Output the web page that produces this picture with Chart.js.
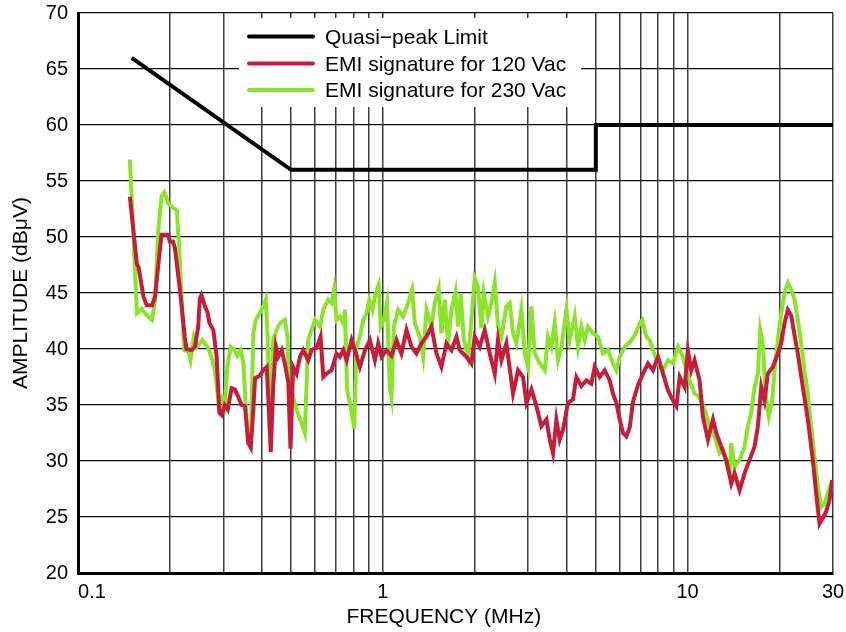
<!DOCTYPE html>
<html>
<head>
<meta charset="utf-8">
<script src="https://cdn.jsdelivr.net/npm/chart.js@4.4.1/dist/chart.umd.min.js"></script>
<style>
  html, body { margin: 0; padding: 0; background: #ffffff; }
  #wrap { width: 846px; height: 632px; }
</style>
</head>
<body>
<div id="wrap"><canvas id="c" width="846" height="632"></canvas></div>
<script>
// ---------- data ----------
const limitFreq = [0.15, 0.5, 5, 5, 30];
const limitVal  = [66, 56, 56, 60, 60];

const red120Freq = [0.148,0.156,0.158,0.164,0.168,0.175,0.179,0.186,0.188,0.198,
0.200,0.205,0.208,0.216,0.224,0.227,0.236,0.242,0.248,0.251,
0.254,0.261,0.266,0.270,0.278,0.285,0.291,0.296,0.303,0.310,
0.319,0.327,0.336,0.344,0.353,0.362,0.369,0.376,0.381,0.395,
0.405,0.416,0.424,0.429,0.437,0.446,0.454,0.466,0.477,0.490,
0.498,0.508,0.521,0.535,0.548,0.569,0.584,0.606,0.625,0.638,
0.654,0.679,0.705,0.723,0.742,0.761,0.790,0.810,0.841,0.874,
0.907,0.942,0.966,0.991,1.028,1.068,1.109,1.151,1.196,1.242,
1.290,1.339,1.391,1.444,1.500,1.557,1.617,1.680,1.745,1.789,
1.881,1.953,2.003,2.080,2.160,2.244,2.330,2.388,2.450,2.544,
2.675,2.778,2.885,2.959,3.073,3.191,3.314,3.442,3.530,3.618,
3.711,3.806,3.903,4.052,4.209,4.317,4.483,4.656,4.835,4.958,
5.149,5.347,5.553,5.693,5.839,5.989,6.140,6.298,6.459,6.622,
6.877,7.141,7.416,7.702,7.998,8.306,8.626,8.958,9.187,9.422,
9.785,10.02,10.28,10.54,10.95,11.22,11.66,12.11,12.42,12.90,
13.39,13.91,14.26,14.81,15.38,15.97,16.59,17.01,17.45,17.89,
18.34,19.04,19.78,20.28,20.80,21.33,21.88,22.44,23.00,23.88,
24.81,25.76,26.42,27.10,27.78,28.50,29.22,29.80];
const red120Val = [53.6,47.6,47.3,44.7,43.9,43.9,44.7,49.1,50.2,50.2,
49.6,49.6,49.0,45.3,41.1,40.0,39.9,40.2,42.0,44.5,
44.8,43.8,43.3,42.3,41.7,39.3,34.3,34.1,35.0,34.6,
36.5,36.4,35.7,35.0,34.9,31.6,31.2,34.6,37.4,37.6,
38.1,38.4,34.0,30.8,36.7,40.2,39.3,39.9,38.7,37.0,
31.1,38.4,37.8,39.3,39.9,39.0,39.9,40.1,41.1,37.5,
37.8,38.1,39.6,39.3,39.9,39.0,40.8,39.9,38.4,39.9,
40.8,39.0,40.5,39.3,39.9,39.4,40.8,39.6,41.7,40.2,
39.6,40.5,41.1,42.0,39.6,38.4,40.5,39.9,41.1,39.9,
39.3,38.7,41.1,40.2,41.7,39.6,37.8,40.8,39.0,40.5,
36.0,38.1,37.5,35.2,36.4,34.9,33.1,33.7,31.9,30.7,
33.7,31.9,32.8,35.2,35.5,37.5,36.7,37.2,36.9,38.4,
37.5,38.1,37.2,36.0,35.2,33.7,32.5,32.2,33.0,35.3,
36.8,37.8,38.7,38.1,39.3,37.8,36.3,35.4,34.9,37.5,
36.6,39.9,38.1,39.0,37.2,34.0,31.9,33.7,32.5,31.3,
30.1,28.0,28.9,27.4,28.9,30.1,31.3,33.1,36.6,35.4,
37.8,38.4,39.6,40.5,42.3,43.5,43.0,41.2,39.6,36.6,
33.7,30.1,27.1,24.4,24.9,25.5,26.5,28.3];

const green230Freq = [0.148,0.152,0.156,0.162,0.168,0.175,0.179,0.183,0.188,0.192,
0.198,0.205,0.211,0.215,0.219,0.223,0.230,0.234,0.240,0.246,
0.256,0.266,0.274,0.281,0.289,0.296,0.303,0.309,0.317,0.327,
0.333,0.342,0.349,0.356,0.362,0.369,0.376,0.383,0.395,0.405,
0.413,0.419,0.426,0.437,0.448,0.460,0.477,0.487,0.496,0.505,
0.521,0.541,0.555,0.569,0.584,0.599,0.622,0.638,0.662,0.679,
0.693,0.705,0.723,0.742,0.751,0.764,0.780,0.806,0.820,0.841,
0.863,0.885,0.903,0.925,0.942,0.969,0.984,1.008,1.033,1.054,
1.068,1.087,1.123,1.166,1.211,1.248,1.274,1.323,1.356,1.391,
1.444,1.481,1.526,1.557,1.597,1.638,1.680,1.732,1.766,1.802,
1.844,1.904,1.953,2.003,2.054,2.106,2.144,2.215,2.272,2.330,
2.388,2.450,2.544,2.609,2.675,2.744,2.850,2.922,2.996,3.073,
3.151,3.273,3.399,3.485,3.574,3.665,3.758,3.854,4.003,4.104,
4.263,4.371,4.483,4.598,4.714,4.895,5.084,5.279,5.483,5.693,
5.839,5.989,6.219,6.459,6.707,6.965,7.104,7.325,7.512,7.702,
7.998,8.306,8.626,8.958,9.302,9.660,9.908,10.15,10.54,10.95,
11.37,11.81,12.26,12.74,13.05,13.39,13.74,13.91,14.26,14.81,
15.38,15.77,16.17,16.59,17.01,17.32,17.66,18.02,18.48,18.95,
19.29,19.78,20.28,20.80,21.33,21.88,22.44,23.00,23.59,24.19,
24.81,25.44,26.09,26.75,27.44,28.14,28.85,29.59];
const green230Val = [56.9,50.3,43.2,43.6,43.0,42.6,44.4,50.3,53.6,54.0,
53.0,52.6,52.4,48.8,44.4,39.9,39.8,39.0,41.1,40.2,
40.8,40.2,39.3,38.1,35.4,35.7,34.9,38.4,40.2,39.9,
39.4,39.9,38.7,34.3,31.6,31.6,41.4,42.6,43.2,43.8,
44.4,41.1,32.2,40.8,41.7,42.3,42.6,41.1,32.5,36.0,
34.6,33.4,32.5,40.8,41.7,42.6,42.0,43.5,44.4,44.1,
45.4,42.6,42.9,42.3,43.5,36.3,35.2,32.9,40.2,41.1,
42.6,43.2,44.4,43.5,44.7,45.7,42.0,42.6,44.1,36.6,
35.7,42.0,43.5,42.9,44.1,45.3,42.3,41.1,39.3,43.5,
42.0,44.1,45.4,41.4,44.4,40.5,43.5,45.1,42.0,44.9,
40.8,39.3,42.6,46.3,45.5,41.9,45.0,42.9,44.1,45.9,
42.0,41.1,43.8,44.1,41.4,40.5,43.5,39.6,38.4,43.8,
39.6,38.7,38.1,41.1,40.2,42.3,39.0,40.2,43.5,40.8,
42.9,40.2,42.0,40.8,42.0,41.4,41.1,39.6,39.9,38.7,
38.1,39.3,40.2,40.6,41.2,42.3,42.6,41.1,40.8,39.9,
38.7,38.1,39.0,38.7,40.2,39.3,38.1,37.2,36.0,35.7,
34.6,33.1,32.2,30.7,31.0,29.8,28.9,31.6,29.5,30.1,
31.3,33.1,34.3,36.6,37.8,41.7,40.5,36.0,34.0,35.4,
38.1,40.8,43.2,45.0,45.9,45.3,44.4,42.6,40.5,38.1,
36.0,33.1,30.4,27.7,25.9,26.2,27.1,28.0];

const seriesNames = ['Quasi\u2212peak Limit', 'EMI signature for 120 Vac', 'EMI signature for 230 Vac'];
const xGridTicks = [0.1,0.2,0.3,0.4,0.5,0.6,0.7,0.8,0.9,1,2,3,4,5,6,7,8,9,10,20,30];
const xLabelTicks = [0.1, 1, 10, 30];
const xTickLabels = ['     0.1', '1', '10', '30'];
const yMin = 20, yMax = 70, yStep = 5;
const xTitle = 'FREQUENCY (MHz)    ';
const yTitle = 'AMPLITUDE (dB\u03BCV)';

// ---------- build ----------
const toPts = (xs, ys) => xs.slice(0, Math.min(xs.length, ys.length)).map((x, i) => ({x: x, y: ys[i]}));
const FONT = '"Liberation Sans", Arial, Helvetica, sans-serif';

const legendBox = {
  id: 'legendBox',
  beforeDatasetsDraw(chart) {
    const ctx = chart.ctx;
    const ca = chart.chartArea;
    const left = ca.left + 161, top = ca.top + 5, w = 342, h = 89;
    ctx.save();
    ctx.fillStyle = '#ffffff';
    ctx.fillRect(left, top, w, h);
    const rows = [ca.top + 25, ca.top + 52, ca.top + 78.5];
    chart.data.datasets.forEach((ds, i) => {
      ctx.strokeStyle = ds.borderColor;
      ctx.lineWidth = 4;
      ctx.lineCap = 'round';
      ctx.beginPath();
      ctx.moveTo(left + 10, rows[i] - 1.5);
      ctx.lineTo(left + 74, rows[i] - 1.5);
      ctx.stroke();
      ctx.fillStyle = '#000';
      ctx.font = '21px ' + FONT;
      ctx.textAlign = 'left';
      ctx.textBaseline = 'middle';
      ctx.fillText(ds.label, left + 86, rows[i]);
    });
    ctx.restore();
  }
};

new Chart(document.getElementById('c'), {
  type: 'line',
  data: {
    datasets: [
      { label: seriesNames[0], data: toPts(limitFreq, limitVal), borderColor: '#000000', borderWidth: 4, pointRadius: 0, tension: 0, fill: false },
      { label: seriesNames[1], data: toPts(red120Freq, red120Val), borderColor: '#C41E3A', borderWidth: 4, pointRadius: 0, tension: 0, fill: false },
      { label: seriesNames[2], data: toPts(green230Freq, green230Val), borderColor: '#8BE42B', borderWidth: 4, pointRadius: 0, tension: 0, fill: false }
    ]
  },
  options: {
    responsive: false,
    animation: false,
    devicePixelRatio: 1,
    layout: { padding: { left: 0, right: 13, top: 13, bottom: 0 } },
    plugins: { legend: { display: false }, tooltip: { enabled: false }, title: { display: false } },
    scales: {
      x: {
        type: 'logarithmic',
        min: 0.1, max: 30,
        afterBuildTicks(scale) { scale.ticks = xGridTicks.map(v => ({ value: v })); },
        afterFit(scale) { scale.height = 59; scale.paddingLeft = 0; scale.paddingRight = 0; },
        grid: { color: '#3c3c3c', lineWidth: 1.5, drawTicks: false },
        border: { display: true, color: '#000', width: 3 },
        ticks: {
          autoSkip: false, maxRotation: 0, minRotation: 0, padding: 7,
          color: '#000', font: { family: FONT, size: 20 },
          callback(value) {
            const i = xLabelTicks.findIndex(t => Math.abs(t - value) < 1e-9);
            return i >= 0 ? xTickLabels[i] : '';
          }
        },
        title: { display: true, text: xTitle, color: '#000', font: { family: FONT, size: 21, lineHeight: 1.2 }, padding: { top: 0, bottom: 2 } }
      },
      y: {
        min: yMin, max: yMax,
        afterFit(scale) { scale.width = 78; scale.paddingTop = 0; scale.paddingBottom = 0; },
        grid: { color: '#111', lineWidth: 1.3, drawTicks: false },
        border: { display: true, color: '#000', width: 3 },
        ticks: { stepSize: yStep, padding: 10, color: '#000', font: { family: FONT, size: 20 } },
        title: { display: true, text: yTitle, color: '#000', font: { family: FONT, size: 21, lineHeight: 1.2 }, padding: { top: 9, bottom: 0 } }
      }
    }
  },
  plugins: [legendBox]
});
</script>
</body>
</html>
